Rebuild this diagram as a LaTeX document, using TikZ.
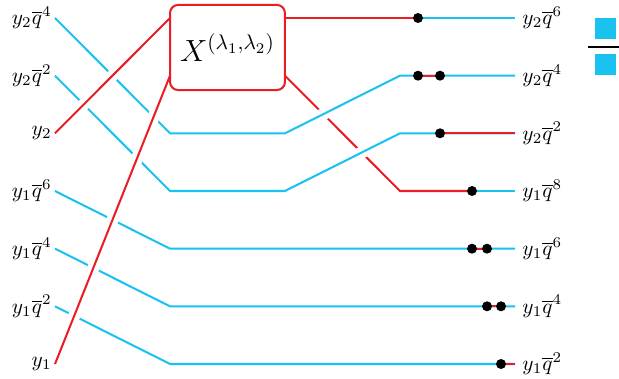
\documentclass[tikz,border=0pt]{standalone}
\definecolor{strandblue}{RGB}{26,194,240}
\definecolor{strandred}{RGB}{236,28,36}
\begin{document}
\begin{tikzpicture}[
  x=0.47pt,
  y=-0.47pt,
  line join=round,
  bluestrand/.style={draw=strandblue,line width=0.95pt},
  redstrand/.style={draw=strandred,line width=0.95pt},
  overpass/.style={preaction={draw=white,line width=5.6pt}},
  label/.style={inner sep=1.4pt}
]
  \useasboundingbox (0,0) rectangle (619,379);

  % Row ends on both sides and the columns in between.
  \foreach \i/\r in {1/18,2/75.7,3/133.3,4/191,5/248.7,6/306.3,7/364} {
    \coordinate (a\i) at (55,\r);
    \coordinate (b\i) at (515,\r);
  }
  \coordinate (xw) at (170,0);
  \coordinate (xe) at (285,0);
  \coordinate (turn) at (400,0);
  \coordinate (p1) at (418,0);
  \coordinate (p2) at (440,0);
  \coordinate (p3) at (472,0);
  \coordinate (p4) at (487,0);
  \coordinate (p5) at (501,0);

  % Red strand that passes under the blue ones.
  \draw[redstrand] (xe |- a2) -- (turn |- a4) -- (p3 |- b4);

  % Blue strands.
  \draw[bluestrand,overpass] (a1) -- (xw |- a3) -- (xe |- a3)
    -- (turn |- a2) -- (b2);
  \draw[bluestrand,overpass] (a2) -- (xw |- a4) -- (xe |- a4)
    -- (turn |- a3) -- (b3);
  \draw[bluestrand,overpass] (a4) -- (xw |- a5) -- (b5);
  \draw[bluestrand,overpass] (a5) -- (xw |- a6) -- (b6);
  \draw[bluestrand,overpass] (a6) -- (xw |- a7) -- (b7);

  % Red strands over the blue ones.
  \draw[redstrand,overpass] (a3) -- (xw |- a1);
  \draw[redstrand,overpass] (a7) -- (xw |- a2);
  \draw[redstrand] (xe |- b1) -- (p1 |- b1);

  \node[draw=strandred,fill=white,line width=0.95pt,rounded corners=3.8pt,
        minimum width=54pt,minimum height=40pt] (X) at (227.5,47.5)
        {\Large$X^{(\lambda_1,\lambda_2)}$};

  % Colour changes at the dots.
  \draw[bluestrand] (p1 |- b1) -- (b1);
  \draw[bluestrand] (p3 |- b4) -- (b4);
  \draw[redstrand] (p1 |- b2) -- (p2 |- b2);
  \draw[redstrand] (p2 |- b3) -- (b3);
  \draw[redstrand] (p3 |- b5) -- (p4 |- b5);
  \draw[redstrand] (p4 |- b6) -- (p5 |- b6);
  \draw[redstrand] (p5 |- b7) -- (b7);

  \foreach \p/\r in {p1/b1,p1/b2,p2/b2,p2/b3,p3/b4,p3/b5,p4/b5,p4/b6,p5/b6,p5/b7} {
    \fill[black] (\p |- \r) circle[radius=2.35pt];
  }

  % Labels.
  \foreach \i/\t in {1/{y_2\overline{q}^4},2/{y_2\overline{q}^2},3/{y_2},
      4/{y_1\overline{q}^6},5/{y_1\overline{q}^4},6/{y_1\overline{q}^2},7/{y_1}} {
    \node[label,anchor=east] (l\i) at (a\i) {$\t$};
  }
  \foreach \i/\t in {1/{y_2\overline{q}^6},2/{y_2\overline{q}^4},3/{y_2\overline{q}^2},
      4/{y_1\overline{q}^8},5/{y_1\overline{q}^6},6/{y_1\overline{q}^4},7/{y_1\overline{q}^2}} {
    \node[label,anchor=west,inner sep=3.3pt] (r\i) at (b\i) {$\t$};
  }

  % Young diagram at the edge.
  \fill[strandblue] (595,18) rectangle (616,39);
  \fill[strandblue] (595,54) rectangle (616,75);
  \draw[black,line width=1.25pt] (588,47) -- (619,47);
\end{tikzpicture}
\end{document}
